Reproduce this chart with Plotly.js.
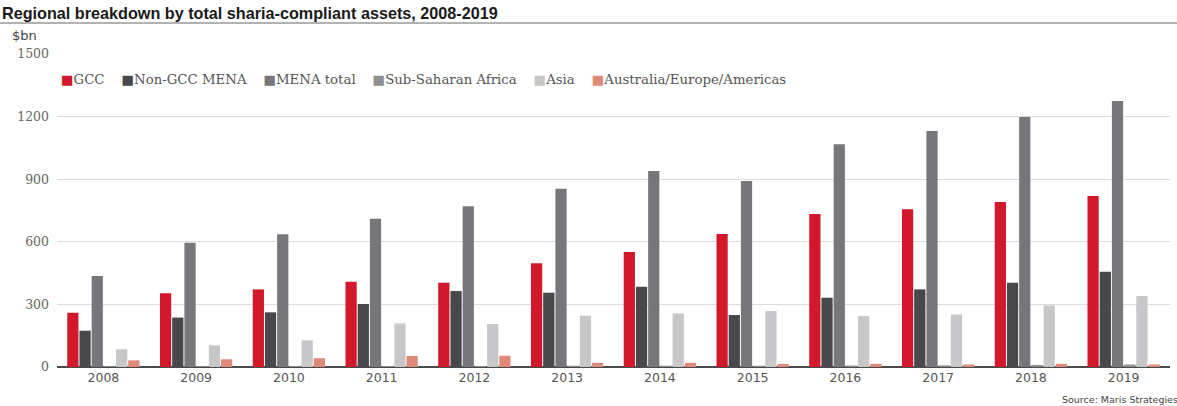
<!DOCTYPE html>
<html>
<head>
<meta charset="utf-8">
<script src="https://cdn.plot.ly/plotly-3.0.1.min.js"></script>
<style>
  html, body { margin: 0; padding: 0; background: #ffffff; }
  #chart { width: 1177px; height: 406px; }
</style>
</head>
<body>
<div id="chart"></div>
<script>
// ---- data ----
const years = ['2008','2009','2010','2011','2012','2013','2014','2015','2016','2017','2018','2019'];
const gcc        = [260, 353, 372, 409, 404, 497, 551, 637, 733, 756, 791, 819];
const nonGccMena = [174, 237, 262, 302, 364, 356, 385, 249, 332, 372, 404, 457];
const menaTotal  = [436, 595, 636, 710, 770, 854, 939, 891, 1068, 1131, 1198, 1275];
const subSaharan = [4, 4, 5, 5, 5, 6, 6, 6, 7, 8, 10, 12];
const asia       = [85, 104, 128, 209, 206, 246, 257, 268, 244, 252, 295, 340];
const ausEurAm   = [32, 37, 42, 53, 54, 20, 20, 15, 15, 12, 15, 12];

const seriesNames  = ['GCC', 'Non-GCC MENA', 'MENA total', 'Sub-Saharan Africa', 'Asia', 'Australia/Europe/Americas'];
const seriesValues = [gcc, nonGccMena, menaTotal, subSaharan, asia, ausEurAm];
const seriesColors = ['#d2192c', '#48474c', '#77777b', '#8f8f92', '#c7c7c9', '#df8a78'];
const yTicks = [0, 300, 600, 900, 1200, 1500];

const titleText = 'Regional breakdown by total sharia-compliant assets, 2008-2019';
const unitText = '$bn';
const sourceText = 'Source: Maris Strategies';

// ---- layout geometry ----
const W = 1177, H = 406;
const M = { l: 57, r: 7, t: 54, b: 39 };
const pw = W - M.l - M.r, ph = H - M.t - M.b;
const px = p => (p - M.l) / pw;            // pixel x -> paper x
const py = p => (H - M.b - p) / ph;        // pixel y -> paper y

const traces = seriesNames.map((n, i) => ({
  type: 'bar',
  name: n,
  x: years,
  y: seriesValues[i],
  marker: { color: seriesColors[i], line: { width: 0 } },
  showlegend: false,
  hoverinfo: 'x+y+name'
}));

const legendText = seriesNames.map((n, i) =>
  `<span style="color:${seriesColors[i]}">■</span>${n}`
).join('&nbsp;&nbsp;&nbsp;&nbsp;');

const layout = {
  width: W, height: H,
  margin: M,
  paper_bgcolor: '#ffffff',
  plot_bgcolor: '#ffffff',
  barmode: 'group',
  bargap: 0.21,
  bargroupgap: 0.08,
  title: {
    text: '<b>' + titleText + '</b>',
    x: 2 / W, xanchor: 'left', xref: 'container',
    y: 1 - 19 / H, yanchor: 'bottom', yref: 'container',
    font: { family: 'Liberation Sans, Arial, sans-serif', size: 16.2, color: '#1a1a1a' }
  },
  xaxis: {
    type: 'category',
    showgrid: false,
    showline: false,
    zeroline: false,
    ticks: '',
    tickfont: { family: 'DejaVu Sans, sans-serif', size: 12.5, color: '#555555' },
    ticklabelstandoff: 1
  },
  yaxis: {
    range: [0, 1500],
    tickvals: yTicks,
    ticktext: yTicks.map(String),
    showgrid: true,
    gridcolor: '#dcdcdc',
    gridwidth: 1,
    zeroline: true,
    zerolinecolor: '#4a4a4a',
    zerolinewidth: 1.5,
    showline: false,
    ticks: '',
    tickfont: { family: 'DejaVu Serif, serif', size: 12.5, color: '#666666' },
    ticklabelstandoff: 7
  },
  shapes: [{
    type: 'line', xref: 'paper', yref: 'paper',
    x0: px(0), x1: px(W), y0: py(23), y1: py(23),
    line: { color: '#666666', width: 1.2 }
  }],
  annotations: [
    {
      text: unitText, xref: 'paper', yref: 'paper',
      x: px(10), y: py(35), xanchor: 'left', yanchor: 'middle',
      showarrow: false,
      font: { family: 'DejaVu Sans, sans-serif', size: 13, color: '#444444' }
    },
    {
      text: legendText, xref: 'paper', yref: 'paper',
      x: px(59), y: py(80), xanchor: 'left', yanchor: 'middle',
      showarrow: false,
      font: { family: 'DejaVu Serif, serif', size: 13.3, color: '#555555' }
    },
    {
      text: sourceText, xref: 'paper', yref: 'paper',
      x: px(1180), y: py(399), xanchor: 'right', yanchor: 'middle',
      showarrow: false,
      font: { family: 'DejaVu Sans, sans-serif', size: 9.5, color: '#444444' }
    }
  ]
};

Plotly.newPlot('chart', traces, layout, { displayModeBar: false, staticPlot: true });
</script>
</body>
</html>
